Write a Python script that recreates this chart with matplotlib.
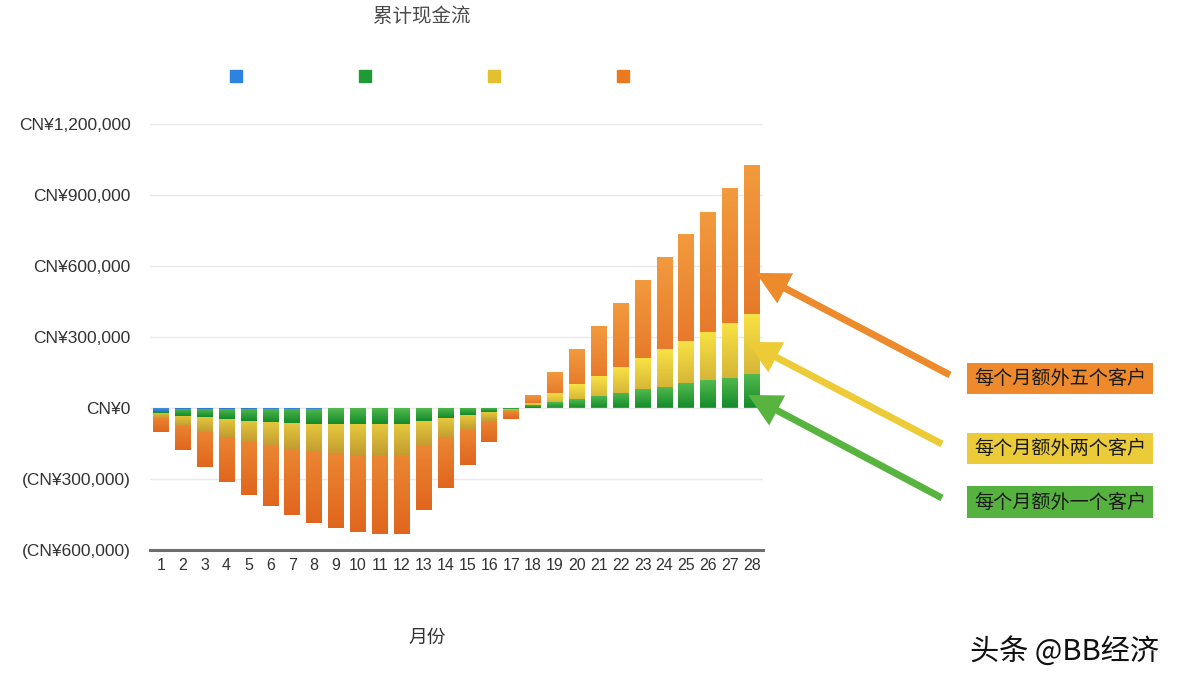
import numpy as np
import matplotlib
matplotlib.use("Agg")
import matplotlib.pyplot as plt
from matplotlib.colors import LinearSegmentedColormap
from matplotlib.lines import Line2D
from matplotlib.patches import Rectangle, FancyArrow
from matplotlib.transforms import IdentityTransform

plt.rcParams['font.family'] = ['Liberation Sans', 'Noto Sans CJK SC', 'DejaVu Sans']

# ---------------- data ----------------
months = list(range(1, 29))
blue = [-18000, -6000, -6000, -5000, -5000, -4000, -4000, -3000, -2000, -2000,
        -2000, -2000, -2000, -2000, -1000, -1000, 0, 2000, 4000, 4000,
        4000, 4000, 4000, 4000, 4000, 4000, 4000, 4000]
green = [-23000, -33000, -37000, -46000, -54000, -59000, -65000, -66000, -66000, -68000,
         -68000, -66000, -54000, -44000, -30000, -18000, -4000, 13000, 24000, 38000,
         52000, 65000, 79000, 90000, 104000, 118000, 128000, 142000]
yellow = [-43000, -76000, -100000, -124000, -145000, -159000, -175000, -185000, -193000, -199000,
          -200000, -200000, -161000, -128000, -93000, -55000, -14000, 23000, 65000, 100000,
          135000, 172000, 210000, 248000, 284000, 322000, 358000, 396000]
orange = [-100000, -179000, -249000, -314000, -369000, -415000, -453000, -484000, -506000, -524000,
          -531000, -531000, -432000, -337000, -239000, -144000, -48000, 55000, 153000, 248000,
          346000, 442000, 541000, 637000, 735000, 829000, 928000, 1027000]
yticks = [-600000, -300000, 0, 300000, 600000, 900000, 1200000]
title = "累计现金流"
xlabel = "月份"
notes = ["每个月额外五个客户", "每个月额外两个客户", "每个月额外一个客户"]
watermark = "头条 @BB经济"

W, H = 1187, 685
fig = plt.figure(figsize=(W / 100, H / 100), dpi=100)
ax = fig.add_axes([150 / W, 1 - 550 / H, (763 - 150) / W, (550 - 124) / H])

grad = np.linspace(0, 1, 128).reshape(-1, 1)


def grad_bars(vals, c_top, c_bot, z, width=0.72):
    bars = ax.bar(months, vals, width, color=c_top, zorder=z, linewidth=0)
    cmap = LinearSegmentedColormap.from_list('g', [c_bot, c_top])
    for b in bars:
        h = b.get_height()
        if h == 0:
            continue
        x0, y0, w = b.get_x(), b.get_y(), b.get_width()
        ylo, yhi = min(y0, y0 + h), max(y0, y0 + h)
        im = ax.imshow(grad, extent=(x0, x0 + w, ylo, yhi), origin='lower', cmap=cmap,
                       aspect='auto', zorder=z, interpolation='bilinear')
        im.set_clip_path(b)
    return bars


grad_bars(orange, '#F29A3E', '#E0661E', 2)
grad_bars(yellow, '#F8E244', '#C39C30', 3)
grad_bars(green, '#52BA4E', '#148A2A', 4)
grad_bars(blue, '#4A97E6', '#2470C8', 5)

ax.set_xlim(0.5, 28.5)
ax.set_ylim(-600000, 1200000)
ax.set_xticks(months)
ax.set_xticklabels([str(m) for m in months])
ax.set_yticks(yticks)


def fmt(v):
    if v == 0:
        return "CN¥0"
    if v < 0:
        return "(CN¥{:,})".format(-v)
    return "CN¥{:,}".format(v)


ax.set_yticklabels([fmt(v) for v in yticks])
ax.tick_params(axis='y', length=0, pad=14, labelsize=12.5, labelcolor='#333333')
ax.tick_params(axis='x', length=0, pad=6, labelsize=11.5, labelcolor='#333333')
ax.grid(axis='y', color='#E8E8E8', linewidth=1, zorder=0)
ax.set_axisbelow(True)
for s in ['top', 'right', 'left']:
    ax.spines[s].set_visible(False)
ax.spines['bottom'].set_color('#6E6E6E')
ax.spines['bottom'].set_linewidth(2.2)
ax.spines['bottom'].set_zorder(6)

# legend (markers only)
handles = [Line2D([], [], marker='s', linestyle='none', markersize=8, color=c,
                  markeredgecolor=c)
           for c in ['#2C84E0', '#1F9A35', '#E2C030', '#E97A22']]
fig.legend(handles, ['', '', '', ''], ncol=4, loc='center', frameon=False,
           bbox_to_anchor=(429.5 / W, 1 - 77 / H), handlelength=1.0,
           handletextpad=0, columnspacing=8.3, fontsize=10)

cjk = ['Noto Sans CJK SC', 'DejaVu Sans']
fig.text(422 / W, 1 - 17 / H, title, ha='center', va='center', fontsize=14,
         color='#4A4A4A', family=cjk)
fig.text(427 / W, 1 - 637 / H, xlabel, ha='center', va='center', fontsize=13.5,
         color='#333333', family=cjk)
fig.text(1065 / W, 1 - 652 / H, watermark, ha='center', va='center', fontsize=21,
         color='#111111', family=cjk)

# arrows and label boxes (figure pixel coordinates)
arrow_specs = [
    ('#EC8A2C', (950, 375), (756, 273)),
    ('#ECCB36', (942, 444), (747, 342)),
    ('#58B43F', (942, 498), (748, 395)),
]
for col, tail, tip in arrow_specs:
    x0, y0 = tail[0], H - tail[1]
    dx, dy = tip[0] - tail[0], (H - tip[1]) - (H - tail[1])
    fig.add_artist(FancyArrow(x0, y0, dx, dy, width=7, head_width=34, head_length=33,
                              length_includes_head=True, color=col, linewidth=0,
                              transform=IdentityTransform()))

box_specs = [('#EE8A2C', 363, 394), ('#EBCB38', 433, 464), ('#56B23F', 486, 518)]
for (col, y0, y1), txt in zip(box_specs, notes):
    fig.add_artist(Rectangle((967 / W, 1 - y1 / H), (1153 - 967) / W, (y1 - y0) / H,
                             transform=fig.transFigure, facecolor=col, edgecolor='none'))
    fig.text(1060 / W, 1 - (y0 + y1) / 2 / H, txt, ha='center', va='center', fontsize=13.8,
             color='#1A1A1A', family=cjk)

fig.savefig('out.png', dpi=100)
